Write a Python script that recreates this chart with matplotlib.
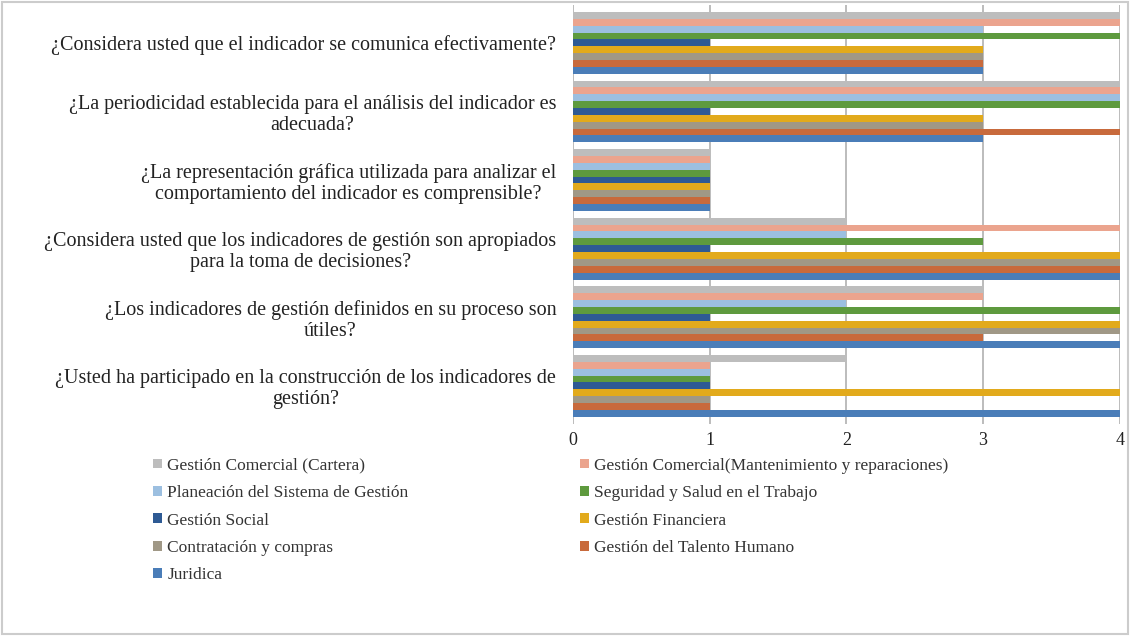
import matplotlib.pyplot as plt
import numpy as np
from matplotlib.patches import Rectangle

plt.rcParams["font.family"] = ["Liberation Serif", "DejaVu Serif"]

preguntas = [
    "¿Considera usted que el indicador se comunica efectivamente?",
    "¿La periodicidad establecida para el análisis del indicador es\nadecuada?",
    "¿La representación gráfica utilizada para analizar el\ncomportamiento del indicador es comprensible?",
    "¿Considera usted que los indicadores de gestión son apropiados\npara la toma de decisiones?",
    "¿Los indicadores de gestión definidos en su proceso son\nútiles?",
    "¿Usted ha participado en la construcción de los indicadores de\ngestión?",
]

procesos = [
    "Gestión Comercial (Cartera)",
    "Gestión Comercial(Mantenimiento y reparaciones)",
    "Planeación del Sistema de Gestión",
    "Seguridad y Salud en el Trabajo",
    "Gestión Social",
    "Gestión Financiera",
    "Contratación y compras",
    "Gestión del Talento Humano",
    "Juridica",
]

# valores por proceso, en el orden de las preguntas
cartera = [4, 4, 1, 2, 3, 2]
mantenimiento = [4, 4, 1, 4, 3, 1]
planeacion = [3, 4, 1, 2, 2, 1]
seguridad = [4, 4, 1, 3, 4, 1]
social = [1, 1, 1, 1, 1, 1]
financiera = [3, 3, 1, 4, 4, 4]
contratacion = [3, 3, 1, 4, 4, 1]
talento = [3, 4, 1, 4, 3, 1]
juridica = [3, 3, 1, 4, 4, 4]

valores = [cartera, mantenimiento, planeacion, seguridad, social,
           financiera, contratacion, talento, juridica]

colores = ["#BDBDBD", "#EBA48E", "#9CBFE0", "#5E9A3E", "#2E5A94",
           "#E2AA1C", "#A09886", "#C86A3C", "#4A7DB8"]

fig = plt.figure(figsize=(11.3, 6.36), dpi=100)
ax = fig.add_axes([0.507, 0.334, 0.484, 0.658])

n = len(procesos)
h = 0.9 / n
y_centros = np.arange(len(preguntas))
handles = []
for i, (nombre, vals, c) in enumerate(zip(procesos, valores, colores)):
    pos = y_centros - 0.45 + h * (i + 0.5)
    b = ax.barh(pos, vals, height=h, color=c, label=nombre, zorder=2)
    handles.append(b)

ax.set_ylim(len(preguntas) - 0.45, -0.55)
ax.set_xlim(0, 4)
ax.set_xticks([0, 1, 2, 3, 4])
ax.set_yticks(y_centros)
ax.set_yticklabels(preguntas, multialignment="center", fontsize=14.5,
                   linespacing=1.12, color="#222222")
ax.tick_params(axis="x", labelsize=13, length=0, pad=6, colors="#222222")
ax.tick_params(axis="y", length=0, pad=12)
ax.grid(axis="x", color="#B0B0B0", linewidth=1.2, zorder=0)
for s in ax.spines.values():
    s.set_visible(False)

orden = [0, 2, 4, 6, 8, 1, 3, 5, 7]
fig.legend([handles[k] for k in orden], [procesos[k] for k in orden],
           ncol=2, loc="upper left", bbox_to_anchor=(0.122, 0.305),
           frameon=False, fontsize=12.5, handlelength=0.5, handleheight=0.5,
           handletextpad=0.3, columnspacing=9.9, labelspacing=0.66,
           labelcolor="#333333")

fig.patches.append(Rectangle((0.002, 0.003), 0.996, 0.994, transform=fig.transFigure,
                             fill=False, edgecolor="#CCCCCC", linewidth=1.5))

fig.savefig("out.png", dpi=100)
